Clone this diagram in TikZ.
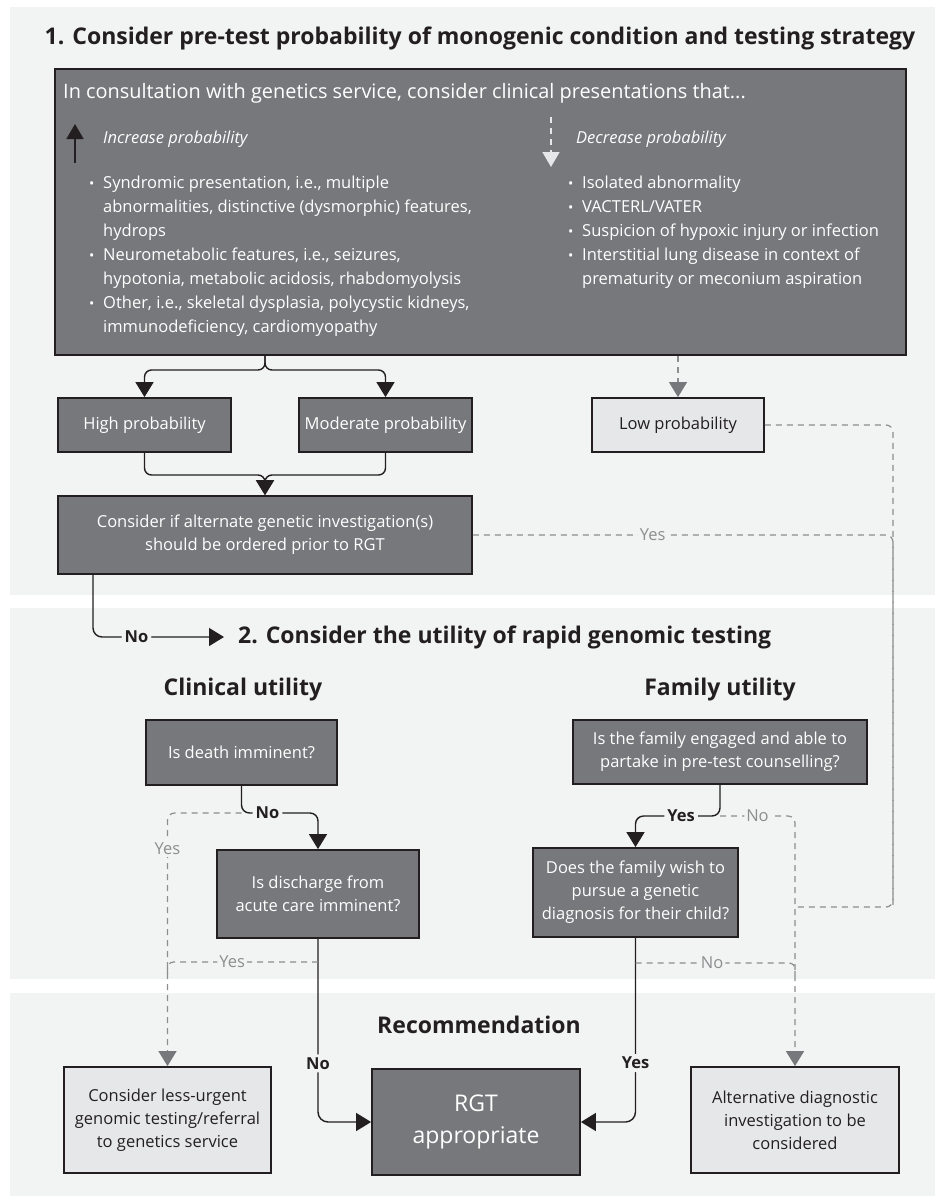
\documentclass[tikz,border=0pt]{standalone}
\usepackage{fontspec}
\setmainfont{Open Sans}
\usetikzlibrary{arrows.meta,positioning}

\definecolor{panelbg}{HTML}{F2F3F3}
\definecolor{boxgray}{HTML}{77787B}
\definecolor{boxlight}{HTML}{E6E7E8}
\definecolor{edge}{HTML}{231F20}
\definecolor{dashgray}{HTML}{8C8D8E}

\newcommand{\titlefont}{\fontsize{23}{27}\selectfont\bfseries}
\newcommand{\boxfont}{\fontsize{16.5}{23}\selectfont}
\newcommand{\leadfont}{\fontsize{19.9}{23}\selectfont}
\newcommand{\listfont}{\fontsize{16.5}{24}\selectfont}
\newcommand{\itm}{\makebox[14pt][l]{\raisebox{0pt}{\fontsize{14}{14}\selectfont\textbullet}}}

\tikzset{
  darkbox/.style={draw=edge, line width=1.8pt, fill=boxgray, text=white, align=center, font=\boxfont},
  lightbox/.style={darkbox, fill=boxlight, text=edge},
  flow/.style={draw=edge, line width=1.4pt, -{Triangle[width=18pt,length=15pt]}},
  dashline/.style={draw=dashgray, line width=1.2pt, dash pattern=on 6pt off 5pt},
  dasharrow/.style={dashline, -{Triangle[width=18pt,length=15pt,color=boxgray]}},
  heading/.style={font=\titlefont, text=edge, inner sep=0pt},
  lbl/.style={font=\boxfont, text=dashgray, fill=panelbg, inner sep=2pt},
  boldlbl/.style={font=\boxfont\bfseries, text=edge, fill=panelbg, inner sep=3pt},
  listnode/.style={font=\listfont, text=white, align=left, inner sep=0pt, anchor=north west}
}

\begin{document}
\begin{tikzpicture}[x=1pt, y=-1pt]
  \useasboundingbox (0,0) rectangle (935,1200);

  % panels
  \fill[panelbg] (10,7) rectangle (935,595);
  \fill[panelbg] (10,608) rectangle (935,979);
  \fill[panelbg] (10,993) rectangle (935,1196);

  % section 1
  \node[heading] (sec1) at (480,38) {1. Consider pre-test probability of monogenic condition and testing strategy};
  \node[darkbox, minimum width=851, minimum height=286] (main) at (480.5,212) {};
  \node[anchor=west, text=white, font=\leadfont, inner sep=0pt] (lead) at (63,93) {In consultation with genetics service, consider clinical presentations that...};

  \draw[draw=edge, line width=1.8pt, -{Triangle[width=17pt,length=15pt]}] (75,163) -- (75,124);
  \node[anchor=west, text=white, font=\listfont\itshape, inner sep=0pt] (inc) at (103,139) {Increase probability};
  \draw[draw=boxlight, line width=1.5pt, dash pattern=on 6pt off 5pt, -{Triangle[width=17pt,length=15pt]}] (551,117) -- (551,167);
  \node[anchor=west, text=white, font=\listfont\itshape, inner sep=0pt] (dec) at (576,139) {Decrease probability};

  \node[listnode] (inclist) at (89,176) {\itm Syndromic presentation, i.e., multiple\\
    \hspace*{14pt}abnormalities, distinctive (dysmorphic) features,\\
    \hspace*{14pt}hydrops\\
    \itm Neurometabolic features, i.e., seizures,\\
    \hspace*{14pt}hypotonia, metabolic acidosis, rhabdomyolysis\\
    \itm Other, i.e., skeletal dysplasia, polycystic kidneys,\\
    \hspace*{14pt}immunodeficiency, cardiomyopathy};
  \node[listnode] (declist) at (568,176) {\itm Isolated abnormality\\
    \itm VACTERL/VATER\\
    \itm Suspicion of hypoxic injury or infection\\
    \itm Interstitial lung disease in context of\\
    \hspace*{14pt}prematurity or meconium aspiration};

  \node[darkbox, minimum width=173, minimum height=54] (high) at (144.5,425) {High probability};
  \node[darkbox, minimum width=173, minimum height=54] (moderate) at (385.5,425) {Moderate probability};
  \node[lightbox, minimum width=172, minimum height=54] (low) at (678,425) {Low probability};
  \node[darkbox, minimum width=414, minimum height=78] (consider) at (265,535) {Consider if alternate genetic investigation(s)\\should be ordered prior to RGT};

  \coordinate (split) at (265,370);
  \coordinate (merge) at (265,475);
  \coordinate (rtrack) at (893,907);
  \coordinate (noexit) at (93,637);

  \draw[flow, rounded corners=7] (split |- main.south) |- (high.north |- split) -- (high.north);
  \draw[flow, rounded corners=7] (split |- main.south) |- (moderate.north |- split) -- (moderate.north);
  \draw[flow, rounded corners=7] (high.south) |- (merge) -- (consider.north);
  \draw[flow, rounded corners=7] (moderate.south) |- (merge) -- (consider.north);
  \draw[dasharrow] (low.north |- main.south) -- (low.north);
  \draw[dashline, rounded corners=7] (low.east) -| (rtrack) -- (795,907);
  \draw[dashline, rounded corners=7] (consider.east) -| node[lbl, pos=0.214] {Yes} (rtrack);

  % section 2
  \node[heading, anchor=west] (sec2) at (238,637) {2. Consider the utility of rapid genomic testing};
  \draw[flow, rounded corners=9, shorten >=14pt] (consider.south -| noexit) |- node[boldlbl, pos=0.65] {No} (sec2.west);

  \node[heading] (clin) at (243,690) {Clinical utility};
  \node[heading] (fam) at (720,690) {Family utility};

  \node[darkbox, minimum width=191, minimum height=65] (death) at (241.5,752.5) {Is death imminent?};
  \node[darkbox, minimum width=202, minimum height=88] (discharge) at (318,894) {Is discharge from\\acute care imminent?};
  \node[darkbox, minimum width=294, minimum height=64] (engaged) at (720,752) {Is the family engaged and able to\\partake in pre-test counselling?};
  \node[darkbox, minimum width=205, minimum height=89] (wish) at (635.5,892.5) {Does the family wish to\\pursue a genetic\\diagnosis for their child?};

  % section 3
  \node[heading] (rec) at (479,1025) {Recommendation};
  \node[lightbox, minimum width=207, minimum height=106] (less) at (167.5,1120) {Consider less-urgent\\genomic testing/referral\\to genetics service};
  \node[darkbox, minimum width=208, minimum height=106, font=\fontsize{23}{32}\selectfont] (rgt) at (476,1122) {RGT\\appropriate};
  \node[lightbox, minimum width=208, minimum height=106] (alt) at (795,1120) {Alternative diagnostic\\investigation to be\\considered};

  \coordinate (deathfork) at (242,813);
  \coordinate (yesmerge) at (167.5,962);
  \coordinate (famfork) at (720,816);
  \coordinate (nomerge) at (795,963);

  \draw[flow, rounded corners=8] (death.south) |- node[boldlbl, pos=0.67] {No} (discharge.north |- deathfork) -- (discharge.north);
  \draw[dasharrow, rounded corners=7] (death.south |- deathfork) -| node[lbl, pos=0.571] {Yes} (less.north);
  \draw[flow, rounded corners=10] (discharge.south) |- node[boldlbl, pos=0.34] {No} (rgt.west);
  \draw[dashline, rounded corners=6] (discharge.south |- yesmerge) -- node[lbl, pos=0.57] {Yes} (yesmerge) -- ++(0,12);

  \draw[flow, rounded corners=8] (engaged.south) |- node[boldlbl, pos=0.73] {Yes} (wish.north |- famfork) -- (wish.north);
  \draw[dasharrow, rounded corners=7] (engaged.south |- famfork) -| node[lbl, pos=0.25] {No} (alt.north);
  \draw[flow, rounded corners=10] (wish.south) |- node[boldlbl, pos=0.34] {Yes} (rgt.east);
  \draw[dashline, rounded corners=6] (wish.south |- nomerge) -- node[lbl, pos=0.48] {No} (nomerge) -- ++(0,12);
\end{tikzpicture}
\end{document}
